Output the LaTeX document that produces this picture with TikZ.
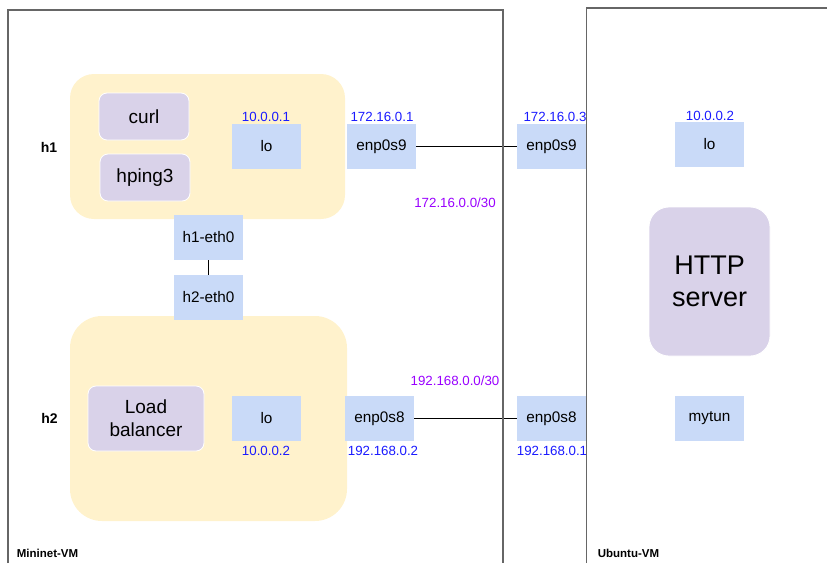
\documentclass[tikz,border=0pt]{standalone}
\usepackage{fontspec}
\setmainfont{Liberation Sans}
\definecolor{hostyellow}{HTML}{FFF2CC}
\definecolor{appviolet}{HTML}{D9D2E9}
\definecolor{ifblue}{HTML}{C9DAF8}
\definecolor{addrblue}{HTML}{1A1AFF}
\definecolor{netpurple}{HTML}{9900FF}
\definecolor{framegray}{HTML}{666666}
\newcommand{\fsz}[2]{\fontsize{#1}{#2}\selectfont}
\tikzset{
  hostbox/.style={fill=hostyellow, draw=none, inner sep=0pt},
  appbox/.style={fill=appviolet, draw=white, line width=0.8pt, inner sep=0pt,
                 align=center, rounded corners=8pt, font=\fsz{19}{23}},
  ifbox/.style={fill=ifblue, draw=none, inner sep=0pt, minimum width=69pt,
                minimum height=45pt, font=\fsz{15.3}{18}},
  addr/.style={text=addrblue, inner sep=0pt, font=\fsz{13.3}{15}},
  subnet/.style={text=netpurple, inner sep=0pt, font=\fsz{13.3}{15}},
  hostname/.style={inner sep=0pt, font=\fsz{14}{16}\bfseries},
  vmname/.style={inner sep=0pt, font=\fsz{11.5}{14}\bfseries},
  vmframe/.style={draw=framegray, line width=1.1pt},
  link/.style={draw=black, line width=0.9pt}
}
\begin{document}
\begin{tikzpicture}[x=1pt, y=-1pt]
\useasboundingbox (0,0) rectangle (827,563);

% hosts
\node[hostbox, minimum width=275pt, minimum height=145pt, rounded corners=24pt] (h1box) at (207.5,146.5) {};
\node[hostbox, minimum width=277pt, minimum height=205pt, rounded corners=32pt] (h2box) at (208.5,418.5) {};
\node[hostname] (h1) at (49,147) {h1};
\node[hostname] (h2) at (49.5,418) {h2};

% applications
\node[appbox, minimum width=90pt, minimum height=47pt] (curl) at (144,116.5) {curl};
\node[appbox, minimum width=90pt, minimum height=47pt] (hping) at (145,177.5) {hping3};
\node[appbox, minimum width=116pt, minimum height=65pt] (lb) at (146,418.5) {Load\\balancer};
\node[appbox, minimum width=121pt, minimum height=149pt, rounded corners=20pt,
      font=\fsz{27}{32}] (http) at (709.5,281.5) {HTTP\\server};

% interfaces
\node[ifbox] (lo1) at (266.5,146.5) {lo};
\node[ifbox] (enp9a) at (381.5,146.5) {enp0s9};
\node[ifbox] (h1eth) at (208.5,237.5) {h1-eth0};
\node[ifbox] (h2eth) at (208.5,297.5) {h2-eth0};
\node[ifbox] (lo2) at (266.5,418.5) {lo};
\node[ifbox] (enp8a) at (379.5,418.5) {enp0s8};
\node[ifbox] (enp9b) at (551.5,146.5) {enp0s9};
\node[ifbox] (enp8b) at (551.5,418.5) {enp0s8};
\node[ifbox] (lo3) at (709.5,144.5) {lo};
\node[ifbox] (mytun) at (709.5,418.5) {mytun};

% addresses
\node[addr] (a101) at (266,117) {10.0.0.1};
\node[addr] (a1721) at (382,117) {172.16.0.1};
\node[addr] (a1723) at (555,117) {172.16.0.3};
\node[addr] (a102r) at (710,116) {10.0.0.2};
\node[addr] (a102l) at (266,451) {10.0.0.2};
\node[addr] (a1922) at (383,451) {192.168.0.2};
\node[addr] (a1921) at (552,451) {192.168.0.1};
\node[subnet] (n172) at (455,203) {172.16.0.0/30};
\node[subnet] (n192) at (455,381) {192.168.0.0/30};

% links
\draw[link] (h1eth.south) -- (h2eth.north);
\draw[link] (enp9a.east) -- (enp9b.west);
\draw[link] (enp8a.east) -- (enp8b.west);

% virtual machine frames
\coordinate (mnbl) at (8,563);
\coordinate (mntl) at (8,10);
\coordinate (mntr) at (503,10);
\coordinate (mnbr) at (503,563);
\coordinate (ubbl) at (586.5,563);
\coordinate (ubtl) at (586.5,8);
\coordinate (ubtr) at (827,8);
\draw[vmframe] (mnbl) -- (mntl) -- (mntr) -- (mnbr);
\draw[vmframe] (ubbl) -- (ubtl) -- (ubtr);
\node[vmname] (mnvm) at (47.5,553) {Mininet-VM};
\node[vmname] (ubvm) at (628.5,553) {Ubuntu-VM};
\end{tikzpicture}
\end{document}
